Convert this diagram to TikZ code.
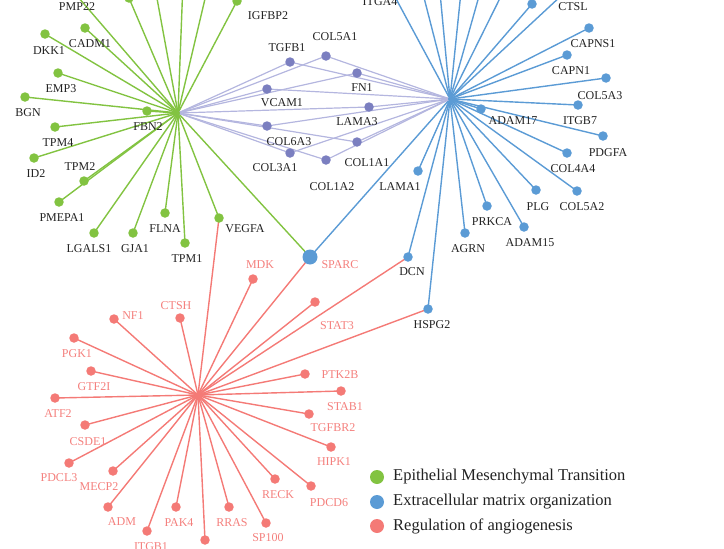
\documentclass[tikz,border=0pt]{standalone}
\usepackage{fontspec}
\setmainfont{Liberation Serif}
\pgfdeclarelayer{bg}
\pgfsetlayers{bg,main}
\definecolor{gC}{HTML}{82C341}
\definecolor{bC}{HTML}{5B9BD5}
\definecolor{rC}{HTML}{F47A76}
\definecolor{pC}{HTML}{7B7FC0}
\definecolor{pL}{HTML}{B4B6DF}
\definecolor{rT}{HTML}{F4807D}
\definecolor{kT}{HTML}{222222}
\tikzset{
  dotg/.style={circle,fill=gC,inner sep=0pt,minimum size=9.5pt},
  dotb/.style={circle,fill=bC,inner sep=0pt,minimum size=9.5pt},
  dotr/.style={circle,fill=rC,inner sep=0pt,minimum size=9.5pt},
  dotp/.style={circle,fill=pC,inner sep=0pt,minimum size=9.5pt},
  hubg/.style={circle,fill=gC,inner sep=0pt,minimum size=4pt},
  hubb/.style={circle,fill=bC,inner sep=0pt,minimum size=4pt},
  hubr/.style={circle,fill=rC,inner sep=0pt,minimum size=4pt},
  lk/.style={text=kT,inner sep=0pt,font=\fontsize{12}{12}\selectfont},
  lr/.style={text=rT,inner sep=0pt,font=\fontsize{12}{12}\selectfont},
  eg/.style={draw=gC,line width=1.4pt},
  eb/.style={draw=bC,line width=1.4pt},
  er/.style={draw=rC,line width=1.4pt},
  ep/.style={draw=pL,line width=1.2pt},
  legdot/.style={circle,inner sep=0pt,minimum size=14pt},
  legtxt/.style={anchor=west,text=kT,inner sep=0pt,font=\fontsize{16.5}{16.5}\selectfont},
}
\newcommand{\leaf}[6]{\node[#1] (#2) at (#3) {}; \node[#6] (#2-l) at (#4) {#5};}
\newcommand{\dotonly}[3]{\node[#1] (#2) at (#3) {};}
\begin{document}
\begin{tikzpicture}[x=1pt,y=-1pt]
\useasboundingbox (0,0) rectangle (724,549);
\clip (0,0) rectangle (724,549);
% hubs
\node[hubg] (HG) at (178,113) {};
\node[hubb] (HB) at (450,99) {};
\node[hubr] (HR) at (198,395) {};
% green leaves
\leaf{dotg}{PMP22}{72,-10}{77,7}{PMP22}{lk}
\dotonly{dotg}{g1}{129,-2}
\dotonly{dotg}{g2}{154,-18}
\dotonly{dotg}{g3}{183,-18}
\dotonly{dotg}{g4}{209,-18}
\leaf{dotg}{IGFBP2}{237,1}{268,16}{IGFBP2}{lk}
\leaf{dotg}{CADM1}{85,28}{90,44}{CADM1}{lk}
\leaf{dotg}{DKK1}{45,34}{49,51}{DKK1}{lk}
\leaf{dotg}{EMP3}{58,73}{61,89}{EMP3}{lk}
\leaf{dotg}{BGN}{25,97}{28,113}{BGN}{lk}
\leaf{dotg}{FBN2}{147,111}{148,127}{FBN2}{lk}
\leaf{dotg}{TPM4}{55,127}{58,143}{TPM4}{lk}
\leaf{dotg}{ID2}{34,158}{36,174}{ID2}{lk}
\leaf{dotg}{TPM2}{84,181}{80,167}{TPM2}{lk}
\leaf{dotg}{PMEPA1}{59,202}{62,218}{PMEPA1}{lk}
\leaf{dotg}{LGALS1}{94,233}{89,249}{LGALS1}{lk}
\leaf{dotg}{GJA1}{133,233}{135,249}{GJA1}{lk}
\leaf{dotg}{FLNA}{165,213}{165,229}{FLNA}{lk}
\leaf{dotg}{TPM1}{185,243}{187,259}{TPM1}{lk}
\leaf{dotg}{VEGFA}{219,218}{245,229}{VEGFA}{lk}
\node[circle,fill=bC,inner sep=0pt,minimum size=15pt] (SPARC) at (310,257) {};
\node[lr] (SPARC-l) at (340,265) {SPARC};
% purple
\leaf{dotp}{TGFB1}{290,62}{287,48}{TGFB1}{lk}
\leaf{dotp}{COL5A1}{326,56}{335,37}{COL5A1}{lk}
\leaf{dotp}{FN1}{357,73}{362,88}{FN1}{lk}
\leaf{dotp}{VCAM1}{267,89}{282,103}{VCAM1}{lk}
\leaf{dotp}{LAMA3}{369,107}{357,122}{LAMA3}{lk}
\leaf{dotp}{COL6A3}{267,126}{289,142}{COL6A3}{lk}
\leaf{dotp}{COL1A1}{357,142}{367,163}{COL1A1}{lk}
\leaf{dotp}{COL3A1}{290,153}{275,168}{COL3A1}{lk}
\leaf{dotp}{COL1A2}{326,160}{332,187}{COL1A2}{lk}
% blue
\leaf{dotb}{ITGA4}{387,-18}{380,2}{ITGA4}{lk}
\dotonly{dotb}{b1}{420,-18}
\dotonly{dotb}{b2}{439,-18}
\dotonly{dotb}{b3}{462,-18}
\dotonly{dotb}{b4}{483,-18}
\dotonly{dotb}{b5}{508,-18}
\dotonly{dotb}{b6}{576,-18}
\leaf{dotb}{CTSL}{532,4}{573,7}{CTSL}{lk}
\leaf{dotb}{CAPNS1}{589,28}{593,44}{CAPNS1}{lk}
\leaf{dotb}{CAPN1}{567,55}{571,71}{CAPN1}{lk}
\leaf{dotb}{COL5A3}{606,78}{600,96}{COL5A3}{lk}
\leaf{dotb}{ITGB7}{578,105}{580,121}{ITGB7}{lk}
\leaf{dotb}{ADAM17}{481,109}{513,121}{ADAM17}{lk}
\leaf{dotb}{PDGFA}{603,136}{608,153}{PDGFA}{lk}
\leaf{dotb}{COL4A4}{567,153}{573,169}{COL4A4}{lk}
\leaf{dotb}{COL5A2}{577,191}{582,207}{COL5A2}{lk}
\leaf{dotb}{PLG}{536,190}{538,207}{PLG}{lk}
\leaf{dotb}{PRKCA}{487,206}{492,222}{PRKCA}{lk}
\leaf{dotb}{ADAM15}{524,227}{530,243}{ADAM15}{lk}
\leaf{dotb}{AGRN}{465,233}{468,249}{AGRN}{lk}
\leaf{dotb}{LAMA1}{418,171}{400,187}{LAMA1}{lk}
\leaf{dotb}{DCN}{408,257}{412,272}{DCN}{lk}
\leaf{dotb}{HSPG2}{428,309}{432,325}{HSPG2}{lk}
% red
\leaf{dotr}{MDK}{253,279}{260,265}{MDK}{lr}
\leaf{dotr}{STAT3}{315,302}{337,326}{STAT3}{lr}
\leaf{dotr}{CTSH}{180,318}{176,306}{CTSH}{lr}
\leaf{dotr}{NF1}{114,319}{133,316}{NF1}{lr}
\leaf{dotr}{PGK1}{74,338}{77,354}{PGK1}{lr}
\leaf{dotr}{GTF2I}{91,371}{94,387}{GTF2I}{lr}
\leaf{dotr}{PTK2B}{305,374}{340,375}{PTK2B}{lr}
\leaf{dotr}{STAB1}{341,391}{345,407}{STAB1}{lr}
\leaf{dotr}{ATF2}{55,398}{58,414}{ATF2}{lr}
\leaf{dotr}{CSDE1}{85,425}{88,442}{CSDE1}{lr}
\leaf{dotr}{PDCL3}{69,463}{59,478}{PDCL3}{lr}
\leaf{dotr}{MECP2}{113,471}{99,487}{MECP2}{lr}
\leaf{dotr}{ADM}{108,507}{122,522}{ADM}{lr}
\leaf{dotr}{ITGB1}{147,531}{151,547}{ITGB1}{lr}
\leaf{dotr}{PAK4}{176,507}{179,523}{PAK4}{lr}
\dotonly{dotr}{r1}{205,540}
\leaf{dotr}{RRAS}{229,507}{232,523}{RRAS}{lr}
\leaf{dotr}{SP100}{266,523}{268,538}{SP100}{lr}
\leaf{dotr}{RECK}{275,479}{278,495}{RECK}{lr}
\leaf{dotr}{PDCD6}{311,486}{329,503}{PDCD6}{lr}
\leaf{dotr}{HIPK1}{331,447}{334,462}{HIPK1}{lr}
\leaf{dotr}{TGFBR2}{309,414}{333,428}{TGFBR2}{lr}
% edges
\begin{pgfonlayer}{bg}
\foreach \n in {PMP22,g1,g2,g3,g4,IGFBP2,CADM1,DKK1,EMP3,BGN,FBN2,TPM4,ID2,TPM2,PMEPA1,LGALS1,GJA1,FLNA,TPM1,VEGFA,SPARC}
  \draw[eg] (HG.center) -- (\n.center);
\foreach \n in {ITGA4,b1,b2,b3,b4,b5,b6,CTSL,CAPNS1,CAPN1,COL5A3,ITGB7,ADAM17,PDGFA,COL4A4,COL5A2,PLG,PRKCA,ADAM15,AGRN,LAMA1,DCN,HSPG2,SPARC}
  \draw[eb] (HB.center) -- (\n.center);
\foreach \n in {MDK,STAT3,CTSH,NF1,PGK1,GTF2I,PTK2B,STAB1,ATF2,CSDE1,PDCL3,MECP2,ADM,ITGB1,PAK4,r1,RRAS,SP100,RECK,PDCD6,HIPK1,TGFBR2,VEGFA,SPARC,DCN,HSPG2}
  \draw[er] (HR.center) -- (\n.center);
\foreach \n in {TGFB1,COL5A1,FN1,VCAM1,LAMA3,COL6A3,COL1A1,COL3A1,COL1A2}
  {\draw[ep] (HG.center) -- (\n.center); \draw[ep] (HB.center) -- (\n.center);}
\end{pgfonlayer}
% legend
\node[legdot,fill=gC] (L1) at (377,477) {};
\node[legtxt] (L1-t) at (393,477) {Epithelial Mesenchymal Transition};
\node[legdot,fill=bC] (L2) at (377,502) {};
\node[legtxt] (L2-t) at (393,502) {Extracellular matrix organization};
\node[legdot,fill=rC] (L3) at (377,526) {};
\node[legtxt] (L3-t) at (393,526) {Regulation of angiogenesis};
\end{tikzpicture}
\end{document}
